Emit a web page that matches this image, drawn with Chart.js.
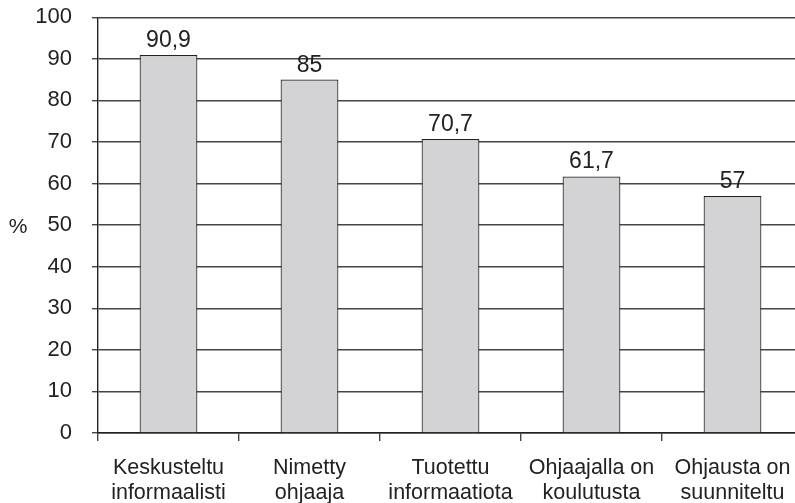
<!DOCTYPE html>
<html>
<head>
<meta charset="utf-8">
<script src="https://cdn.jsdelivr.net/npm/chart.js@4.4.0/dist/chart.umd.min.js"></script>
<style>
  html, body { margin: 0; padding: 0; background: #fff; overflow: hidden; }
  #wrap { width: 810px; height: 519px; margin-top: -16px; }
</style>
</head>
<body>
<div id="wrap"><canvas id="kaavio"></canvas></div>
<script>
// Kategoriat (kaksirivinen nimi)
const kategoriat = [
  ['Keskusteltu', 'informaalisti'],
  ['Nimetty', 'ohjaaja'],
  ['Tuotettu', 'informaatiota'],
  ['Ohjaajalla on', 'koulutusta'],
  ['Ohjausta on', 'suunniteltu']
];
const arvot = [90.9, 85, 70.7, 61.7, 57];
const arvoTekstit = ['90,9', '85', '70,7', '61,7', '57'];
const yMin = 0, yMax = 100, yAskel = 10;
const yOtsikko = '%';

const fontti = '"Liberation Sans", Arial, sans-serif';
const tekstiVari = '#222';

// Arvot pylväiden päälle + prosenttimerkki vasemmalle
const tekstiPlugin = {
  id: 'tekstit',
  afterDatasetsDraw(chart) {
    const ctx = chart.ctx;
    const meta = chart.getDatasetMeta(0);
    ctx.save();
    ctx.fillStyle = tekstiVari;
    ctx.font = '23px ' + fontti;
    ctx.textAlign = 'center';
    ctx.textBaseline = 'alphabetic';
    meta.data.forEach(function(bar, i) {
      ctx.fillText(arvoTekstit[i], bar.x, bar.y - 8);
    });
    const area = chart.chartArea;
    ctx.font = '21px ' + fontti;
    ctx.textBaseline = 'middle';
    ctx.fillText(yOtsikko, 18, (area.top + area.bottom) / 2 + 2);
    ctx.restore();
  }
};

new Chart(document.getElementById('kaavio'), {
  type: 'bar',
  data: {
    labels: kategoriat,
    datasets: [{
      data: arvot,
      backgroundColor: '#d3d3d5',
      borderColor: '#222',
      borderWidth: 1.2,
      barPercentage: 0.41,
      categoryPercentage: 1
    }]
  },
  options: {
    responsive: true,
    maintainAspectRatio: false,
    animation: false,
    layout: { padding: { top: 0, left: 0, right: 7, bottom: 0 } },
    plugins: {
      legend: { display: false },
      tooltip: { enabled: false }
    },
    scales: {
      y: {
        min: yMin,
        max: yMax,
        ticks: {
          stepSize: yAskel,
          padding: 20,
          color: tekstiVari,
          font: { family: fontti, size: 22 }
        },
        grid: {
          color: '#444',
          lineWidth: 1.4,
          tickLength: 6,
          drawTicks: true
        },
        border: { display: true, color: '#222', width: 1.4 },
        afterFit: function(scale) { scale.width = 98; }
      },
      x: {
        ticks: {
          padding: 15,
          color: tekstiVari,
          font: { family: fontti, size: 21.5, lineHeight: 1.16 },
          maxRotation: 0
        },
        grid: {
          offset: true,
          drawOnChartArea: false,
          drawTicks: true,
          tickLength: 8,
          color: '#444',
          lineWidth: 1.4
        },
        border: { display: true, color: '#222', width: 1.4 },
        afterFit: function(scale) { scale.height = 70; }
      }
    }
  },
  plugins: [tekstiPlugin]
});
</script>
</body>
</html>
